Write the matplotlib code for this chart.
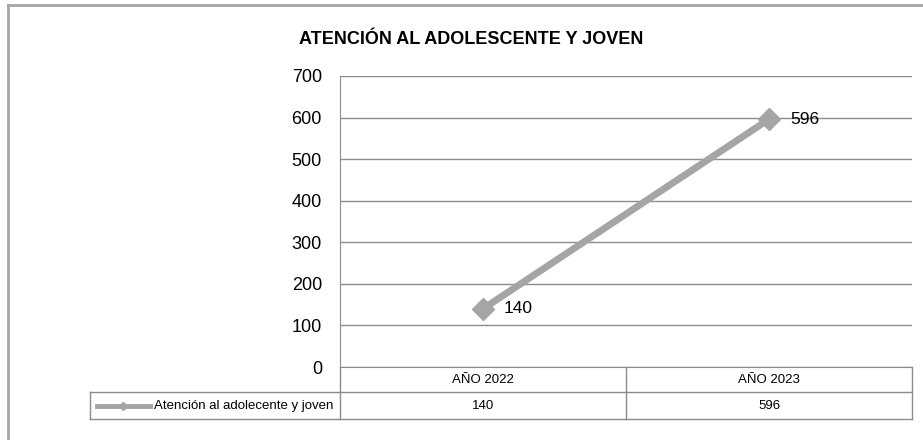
import matplotlib
matplotlib.use('Agg')
from matplotlib import pyplot as plt
from matplotlib.lines import Line2D

# Data
categories = ['AÑO 2022', 'AÑO 2023']
values = [140, 596]
series_name = 'Atención al adolecente y joven'
title = 'ATENCIÓN AL ADOLESCENTE Y JOVEN'
yticks = [0, 100, 200, 300, 400, 500, 600, 700]

plt.rcParams['font.family'] = ['Liberation Sans', 'DejaVu Sans']

W, H = 923, 440
fig = plt.figure(figsize=(W / 100, H / 100), dpi=100)

# plot area in pixels (left, right, top, bottom)
px_l, px_r, px_t, px_b = 340, 912, 76, 367
ax = fig.add_axes([px_l / W, (H - px_b) / H, (px_r - px_l) / W, (px_b - px_t) / H])

line_col = '#A5A5A5'
grid_col = '#8C8C8C'
x = list(range(len(categories)))
ax.plot(x, values, color=line_col, linewidth=5, marker='D', markersize=11,
        markeredgecolor=line_col, markerfacecolor=line_col, zorder=3, clip_on=False)
for xi, v in zip(x, values):
    ax.annotate(str(v), (xi, v), xytext=(15, 0), textcoords='offset points',
                va='center', ha='left', fontsize=12.5, color='black')

ax.set_xlim(-0.5, len(categories) - 0.5)
ax.set_ylim(0, 700)
ax.set_yticks(yticks)
ax.tick_params(axis='y', length=0, labelsize=13, pad=13)
ax.set_xticks([])
ax.grid(axis='y', color=grid_col, linewidth=1)
ax.set_axisbelow(True)
for s in ['top', 'right']:
    ax.spines[s].set_visible(False)
ax.spines['left'].set_color(grid_col)
ax.spines['bottom'].set_color(grid_col)

fig.text(471 / W, 1 - 39 / H, title, ha='center', va='center',
         fontsize=13, fontweight='bold')

# data table below the axis
ah = px_b - px_t
aw = px_r - px_l
r1 = -25 / ah
r2 = -52 / ah
leg_l = (90 - px_l) / aw
tcol = '#8C8C8C'
kw = dict(transform=ax.transAxes, color=tcol, linewidth=1, clip_on=False)
ax.add_line(Line2D([0, 0], [0, r2], **kw))
ax.add_line(Line2D([1, 1], [0, r2], **kw))
ax.add_line(Line2D([leg_l, 1], [r1, r1], **kw))
ax.add_line(Line2D([leg_l, 1], [r2, r2], **kw))
ax.add_line(Line2D([leg_l, leg_l], [r1, r2], **kw))
for i in range(1, len(categories)):
    xd = i / len(categories)
    ax.add_line(Line2D([xd, xd], [0, r2], **kw))
for i, (c, v) in enumerate(zip(categories, values)):
    xc = (i + 0.5) / len(categories)
    ax.text(xc, r1 / 2, c, transform=ax.transAxes, ha='center', va='center', fontsize=9.5)
    ax.text(xc, (r1 + r2) / 2, str(v), transform=ax.transAxes, ha='center', va='center', fontsize=9.5)

# legend key inside the table
ym = (r1 + r2) / 2
k0 = (97 - px_l) / aw
k1 = (150 - px_l) / aw
ax.add_line(Line2D([k0, k1], [ym, ym], transform=ax.transAxes, color=line_col,
                   linewidth=3.5, clip_on=False))
ax.add_line(Line2D([(k0 + k1) / 2], [ym], transform=ax.transAxes, color=line_col,
                   marker='D', markersize=4, clip_on=False))
ax.text((154 - px_l) / aw, ym, series_name, transform=ax.transAxes, ha='left',
        va='center', fontsize=9.5)

# outer chart border (only top and left visible)
fig.add_artist(Line2D([8 / W, 8 / W], [0, 1 - 5 / H], transform=fig.transFigure,
                      color='#A6A6A6', linewidth=2))
fig.add_artist(Line2D([8 / W, 1], [1 - 5 / H, 1 - 5 / H], transform=fig.transFigure,
                      color='#A6A6A6', linewidth=2))

fig.savefig('out.png', dpi=100)
